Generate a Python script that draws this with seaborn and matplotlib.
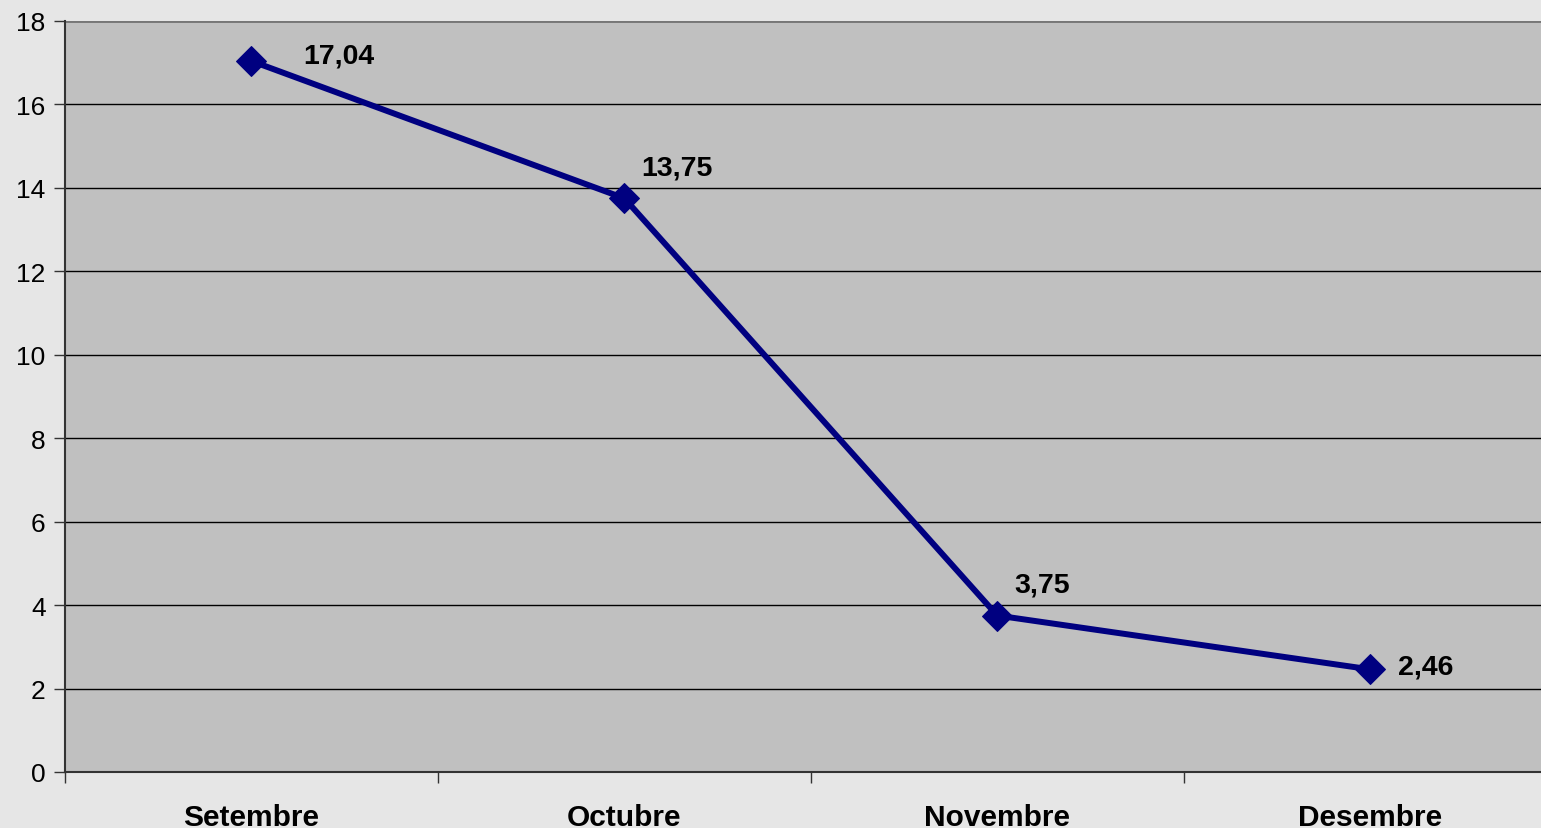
import pandas as pd
import matplotlib.pyplot as plt
import seaborn as sns
from matplotlib.ticker import FixedLocator

# Datos
mesos = ["Setembre", "Octubre", "Novembre", "Desembre"]
valors = [17.04, 13.75, 3.75, 2.46]
etiquetes = ["17,04", "13,75", "3,75", "2,46"]

# desplaçament de cada etiqueta (en punts)
despl = [(37, 4), (12, 22), (12, 22), (20, 2)]

datos = pd.DataFrame({"mes": mesos, "valor": valors})

sns.set_style("white")
plt.rcParams["font.family"] = ["Liberation Sans", "DejaVu Sans"]
plt.rcParams["text.color"] = "black"
plt.rcParams["xtick.color"] = "#333333"
plt.rcParams["ytick.color"] = "#333333"
plt.rcParams["xtick.labelcolor"] = "black"
plt.rcParams["ytick.labelcolor"] = "black"

fig = plt.figure(figsize=(15.41, 8.29), dpi=100)
fig.patch.set_facecolor("#e6e6e6")
ax = fig.add_axes([65 / 1541, 56 / 829, 1476 / 1541, 751 / 829])
ax.set_facecolor("#c0c0c0")

sns.lineplot(data=datos, x="mes", y="valor", sort=False, color="#000080",
             linewidth=4.3, marker="D", markersize=15, markeredgecolor="#000080",
             ax=ax)

for i, (v, t) in enumerate(zip(valors, etiquetes)):
    ax.annotate(t, (i, v), xytext=despl[i], textcoords="offset points",
                ha="left", va="center", fontsize=20.5, fontweight="bold",
                color="black")

ax.set_xlim(-0.5, 3.458)
ax.set_ylim(0, 18)
ax.set_yticks(range(0, 19, 2))
ax.yaxis.grid(True, color="black", linewidth=1.0)
ax.set_axisbelow(True)

ax.set_xticks(range(len(mesos)))
ax.set_xticklabels(mesos, fontsize=21.5, fontweight="bold")
ax.xaxis.set_minor_locator(FixedLocator([-0.5, 0.5, 1.5, 2.5]))
ax.tick_params(axis="x", which="major", bottom=True, length=0, pad=22)
ax.tick_params(axis="x", which="minor", bottom=True, length=8, width=1, direction="out")
ax.tick_params(axis="y", left=True, length=8, width=1, direction="out", labelsize=19, pad=6)

for s in ["top", "right"]:
    ax.spines[s].set_visible(False)
ax.spines["left"].set_color("#333333")
ax.spines["bottom"].set_color("#333333")
ax.spines["left"].set_linewidth(1.5)
ax.spines["bottom"].set_linewidth(1.5)
ax.axhline(18, color="#777777", linewidth=2)

ax.set_xlabel("")
ax.set_ylabel("")

fig.savefig("out.png", dpi=100, facecolor=fig.get_facecolor())
